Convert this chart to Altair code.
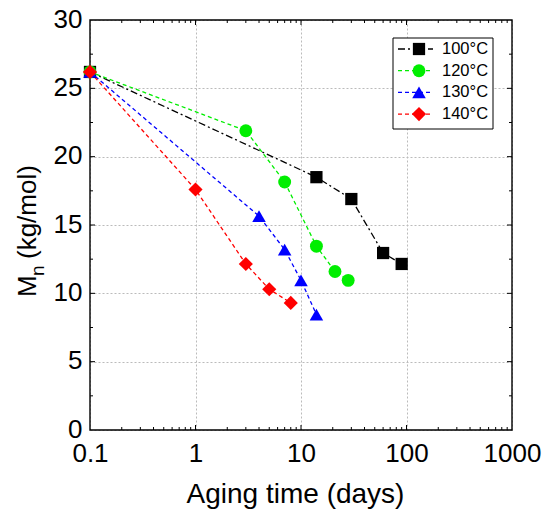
import altair as alt
import pandas as pd

# ---------------- data ----------------
series = ["100°C", "120°C", "130°C", "140°C"]
colors = ["#000000", "#00ee00", "#0000ff", "#ff0000"]
shapes = ["square", "circle", "triangle-up", "diamond"]
dashes = [[7, 3, 2, 3], [4, 3], [4, 3], [4, 3]]
sizes = [150, 200, 280, 300]

t100 = [0.1, 14, 30, 60, 90]
m100 = [26.2, 18.5, 16.9, 12.95, 12.15]
t120 = [0.1, 3, 7, 14, 21, 28]
m120 = [26.2, 21.9, 18.15, 13.45, 11.6, 10.95]
t130 = [0.1, 4, 7, 10, 14]
m130 = [26.2, 15.65, 13.2, 10.95, 8.45]
t140 = [0.1, 1, 3, 5, 8]
m140 = [26.2, 17.6, 12.15, 10.3, 9.3]

x_labels = [0.1, 1, 10, 100, 1000]
y_labels = [0, 5, 10, 15, 20, 25, 30]
x_major = [1, 10, 100]
x_minor = [0.2, 0.3, 0.4, 0.5, 0.6, 0.7, 0.8, 0.9,
           2, 3, 4, 5, 6, 7, 8, 9,
           20, 30, 40, 50, 60, 70, 80, 90,
           200, 300, 400, 500, 600, 700, 800, 900]
y_major = [5, 10, 15, 20, 25]
y_minor = [2.5, 7.5, 12.5, 17.5, 22.5, 27.5]

rows = []
for name, ts, ms in zip(series, [t100, t120, t130, t140], [m100, m120, m130, m140]):
    for t, m in zip(ts, ms):
        rows.append({"s": name, "t": t, "m": m})
df = pd.DataFrame(rows)
leg_df = pd.DataFrame({"s": series})
one = pd.DataFrame({"a": [0]})

# ---------------- layout ----------------
W, H = 422, 410
FONT = "Liberation Sans"

x_scale = alt.Scale(type="log", domain=[0.1, 1000], nice=False)
y_scale = alt.Scale(domain=[0, 30], nice=False)
c_scale = alt.Scale(domain=series, range=colors)
sh_scale = alt.Scale(domain=series, range=shapes)
d_scale = alt.Scale(domain=series, range=dashes)
sz_scale = alt.Scale(domain=series, range=sizes)

x_axis = alt.Axis(values=x_labels, format="~g", grid=True, gridColor="#bbbbbb",
                  gridDash=[2, 2], gridWidth=1, ticks=False, domain=False,
                  labelFont=FONT, labelFontSize=26, labelColor="black",
                  labelPadding=10, labelFlush=False, labelOverlap=False,
                  title="Aging time (days)", titleFont=FONT, titleFontSize=28,
                  titleFontWeight="normal", titleColor="black",
                  titleX=205, titleY=72, titleAlign="center",
                  titleBaseline="alphabetic")
y_axis = alt.Axis(values=y_labels, grid=True, gridColor="#bbbbbb",
                  gridDash=[2, 2], gridWidth=1, ticks=False, domain=False,
                  labelFont=FONT, labelFontSize=26, labelColor="black",
                  labelPadding=8, labelFlush=False, labelOverlap=False,
                  labelOffset=-1, title=None)

lines = alt.Chart(df).mark_line(strokeWidth=1.3).encode(
    x=alt.X("t:Q", scale=x_scale, axis=x_axis),
    y=alt.Y("m:Q", scale=y_scale, axis=y_axis),
    color=alt.Color("s:N", scale=c_scale, legend=None),
    strokeDash=alt.StrokeDash("s:N", scale=d_scale, legend=None),
)

points = alt.Chart(df).mark_point(filled=True, opacity=1, strokeWidth=0).encode(
    x=alt.X("t:Q", scale=x_scale, axis=x_axis),
    y=alt.Y("m:Q", scale=y_scale, axis=y_axis),
    color=alt.Color("s:N", scale=c_scale, legend=None),
    shape=alt.Shape("s:N", scale=sh_scale, legend=None),
    size=alt.Size("s:N", scale=sz_scale, legend=None),
)

frame = alt.Chart(one).mark_rect(fill="white", fillOpacity=0, stroke="black",
                                 strokeWidth=1.4).encode(
    x=alt.value(0), x2=alt.value(W), y=alt.value(0), y2=alt.value(H))


def xticks(vals, y0, y1):
    return alt.Chart(pd.DataFrame({"t": vals})).mark_rule(color="black", strokeWidth=1).encode(
        x=alt.X("t:Q", scale=x_scale, axis=x_axis), y=alt.value(y0), y2=alt.value(y1))


def yticks(vals, x0, x1):
    return alt.Chart(pd.DataFrame({"m": vals})).mark_rule(color="black", strokeWidth=1).encode(
        y=alt.Y("m:Q", scale=y_scale, axis=y_axis), x=alt.value(x0), x2=alt.value(x1))


ticks = [
    xticks(x_major, H, H - 5), xticks(x_minor, H, H - 3),
    xticks(x_major, 0, 5), xticks(x_minor, 0, 3),
    yticks(y_major, 0, 5), yticks(y_minor, 0, 3),
    yticks(y_major, W, W - 5), yticks(y_minor, W, W - 3),
]

# ---------------- legend ----------------
LEG_Y0, LEG_DY = 29, 21.7
leg_layers = [alt.Chart(one).mark_rect(fill="white", stroke="black", strokeWidth=1).encode(
    x=alt.value(303), x2=alt.value(403), y=alt.value(18), y2=alt.value(109))]
for i, name in enumerate(series):
    ly = LEG_Y0 + i * LEG_DY
    base = alt.Chart(leg_df).transform_filter(alt.datum.s == name)
    leg_layers.append(base.mark_rule(strokeWidth=1.3).encode(
        x=alt.value(308), x2=alt.value(343), y=alt.value(ly),
        color=alt.Color("s:N", scale=c_scale, legend=None),
        strokeDash=alt.StrokeDash("s:N", scale=d_scale, legend=None)))
    leg_layers.append(base.mark_point(filled=True, opacity=1, strokeWidth=0).encode(
        x=alt.value(329), y=alt.value(ly),
        color=alt.Color("s:N", scale=c_scale, legend=None),
        shape=alt.Shape("s:N", scale=sh_scale, legend=None),
        size=alt.Size("s:N", scale=sz_scale, legend=None)))
    leg_layers.append(base.mark_text(align="left", baseline="middle", font=FONT,
                                     fontSize=16.5, color="black").encode(
        x=alt.value(352), y=alt.value(ly), text="s:N"))

# ---------------- y title ----------------
yt_M = alt.Chart(one).mark_text(text="M", angle=270, align="left", baseline="alphabetic",
                                font=FONT, fontSize=26, color="black").encode(
    x=alt.value(-54), y=alt.value(277))
yt_n = alt.Chart(one).mark_text(text="n", angle=270, align="left", baseline="alphabetic",
                                font=FONT, fontSize=19, color="black").encode(
    x=alt.value(-46), y=alt.value(256))
yt_rest = alt.Chart(one).mark_text(text="(kg/mol)", angle=270, align="left",
                                   baseline="alphabetic", font=FONT, fontSize=26,
                                   color="black").encode(
    x=alt.value(-54), y=alt.value(239))

chart = alt.layer(*ticks, frame, lines, points, *leg_layers, yt_M, yt_n, yt_rest).properties(
    width=W, height=H,
    autosize=alt.AutoSizeParams(type="none"),
    padding={"left": 90, "top": 20, "right": 33, "bottom": 85},
).configure_view(stroke=None)

chart.save("out.html", embed_options={"renderer": "svg", "actions": False})
